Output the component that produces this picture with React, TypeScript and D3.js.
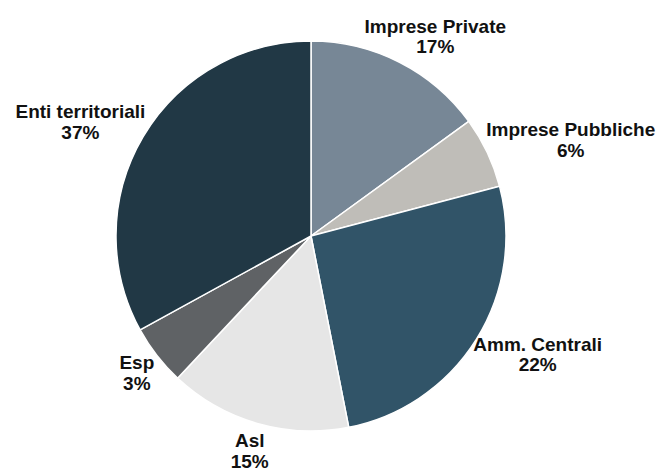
import React, { useEffect, useRef } from "react";
import * as d3 from "d3";

// slice shares (clockwise from 12 o'clock)
const categories = [
  "Imprese Private",
  "Imprese Pubbliche",
  "Amm. Centrali",
  "Asl",
  "Esp",
  "Enti territoriali",
];
const values = [15.0, 5.9, 26.0, 15.1, 5.0, 33.0];
const labelPercents = ["17%", "6%", "22%", "15%", "3%", "37%"];
const colors = ["#778796", "#bfbdb8", "#315468", "#e6e6e6", "#5f6265", "#213845"];

const App: React.FC = () => {
  const ref = useRef<SVGSVGElement>(null);

  useEffect(() => {
    const width = 672;
    const height = 473;
    const cx = 311;
    const cy = 236;
    const radius = 195;

    const svg = d3.select(ref.current);
    svg.selectAll("*").remove();

    const data = categories.map((c, i) => ({
      name: c,
      value: values[i],
      pct: labelPercents[i],
      color: colors[i],
    }));

    const pie = d3
      .pie<(typeof data)[number]>()
      .value((d) => d.value)
      .sort(null);
    const arcs = pie(data);

    const arc = d3
      .arc<d3.PieArcDatum<(typeof data)[number]>>()
      .innerRadius(0)
      .outerRadius(radius);

    const g = svg.append("g").attr("transform", `translate(${cx},${cy})`);

    g.selectAll("path")
      .data(arcs)
      .join("path")
      .attr("d", arc)
      .attr("fill", (d) => d.data.color)
      .attr("stroke", "#ffffff")
      .attr("stroke-width", 1.5)
      .attr("stroke-linejoin", "round");

    // labels: placed just outside the pie, pushed outward by half their size
    const labelR = radius + 8;
    const lineH = 20.5;
    arcs.forEach((d) => {
      const a = (d.startAngle + d.endAngle) / 2;
      const t = g
        .append("text")
        .attr("text-anchor", "middle")
        .attr("font-family", "'Liberation Sans', Arial, sans-serif")
        .attr("font-weight", "bold")
        .attr("font-size", 19)
        .attr("fill", "#111111");
      t.append("tspan").attr("x", 0).attr("dy", 0).text(d.data.name);
      t.append("tspan").attr("x", 0).attr("dy", lineH).text(d.data.pct);

      const box = (t.node() as SVGTextElement).getBBox();
      const w = box.width;
      const h = box.height;
      const x = labelR * Math.sin(a) + (Math.sin(a) * w) / 2;
      const yc = -labelR * Math.cos(a) - (Math.cos(a) * h) / 2;
      // box.y is relative to first baseline; center the block on yc
      const y = yc - (box.y + h / 2);
      t.attr("transform", `translate(${x},${y})`);
    });

    svg.attr("width", width).attr("height", height);
  }, []);

  return (
    <div style={{ position: "fixed", left: 0, top: 0, background: "#fff" }}>
      <svg ref={ref} width={672} height={473} style={{ display: "block" }} />
    </div>
  );
};

export default App;
